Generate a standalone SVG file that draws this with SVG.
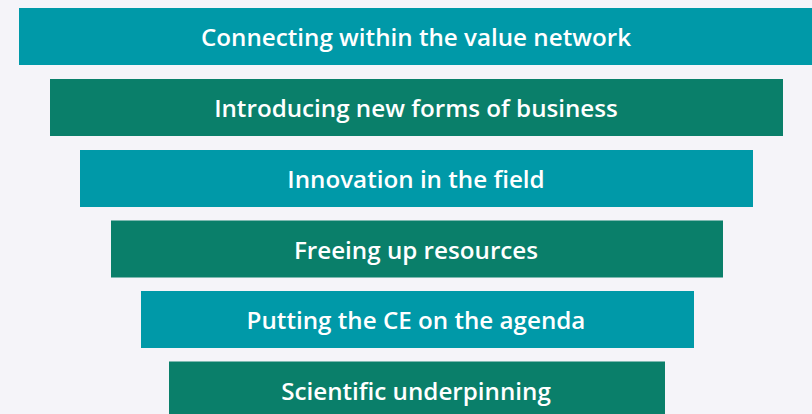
<svg xmlns="http://www.w3.org/2000/svg" width="812" height="414" viewBox="0 0 812 414">
<style>
.t{fill:#0099a8}
.g{fill:#0a7f6a}
text{font-family:"Open Sans","Noto Sans","Liberation Sans",sans-serif;font-weight:600;font-size:24.2px;fill:#ffffff;text-anchor:middle}
</style>
<rect width="812" height="414" fill="#f5f4f9"/>
<g id="bar1"><rect class="t" x="19" y="8" width="793" height="57"/><text x="416" y="46">Connecting within the value network</text></g>
<g id="bar2"><rect class="g" x="50" y="79" width="733" height="57"/><text x="416" y="117">Introducing new forms of business</text></g>
<g id="bar3"><rect class="t" x="80" y="150" width="673" height="57"/><text x="416" y="188">Innovation in the field</text></g>
<g id="bar4"><rect class="g" x="111" y="220.5" width="612" height="57"/><text x="416" y="258.5">Freeing up resources</text></g>
<g id="bar5"><rect class="t" x="141" y="291" width="553" height="57"/><text x="416" y="329">Putting the CE on the agenda</text></g>
<g id="bar6"><rect class="g" x="169" y="361.5" width="496" height="57"/><text x="416" y="399.5">Scientific underpinning</text></g>
<g id="connectors"></g>
</svg>
